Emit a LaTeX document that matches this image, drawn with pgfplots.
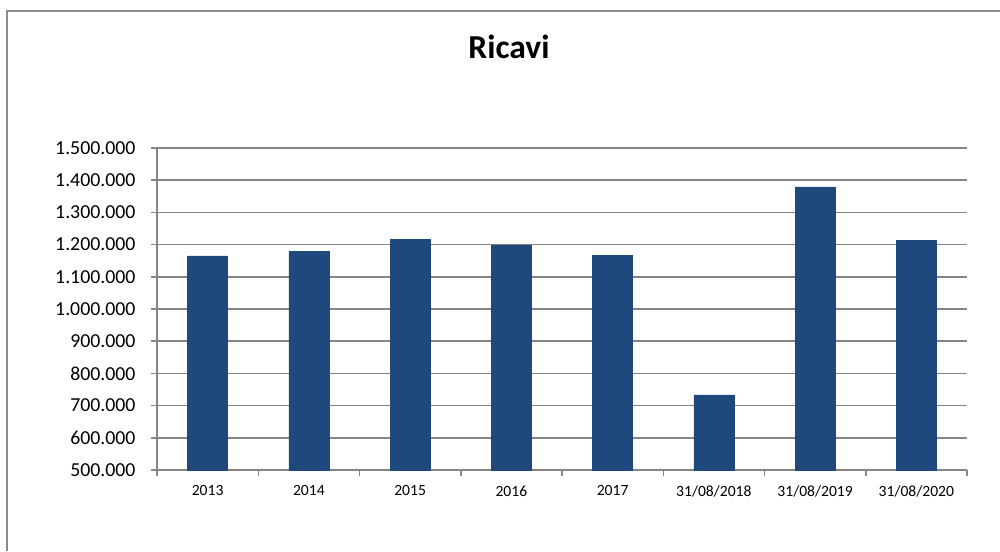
\documentclass[border=0pt]{standalone}
\usepackage{pgfplots}
\pgfplotsset{compat=1.18}
\usepackage{fontspec}
\setmainfont{Carlito}
\definecolor{barblue}{RGB}{31,73,125}
\definecolor{gridgray}{RGB}{134,134,134}
\definecolor{framegray}{RGB}{140,140,140}
\begin{document}
\begin{tikzpicture}[x=1pt,y=1pt]
\useasboundingbox (0,0) rectangle (1000,-551);
\draw[framegray, line width=1.5pt] (7,-551) -- (7,-11) -- (1000,-11);
\node[font=\fontsize{33.5}{40}\selectfont\bfseries, anchor=base] at (509,-59) {Ricavi};
\begin{axis}[
  at={(157pt,-470pt)}, anchor=south west,
  scale only axis, width=810pt, height=322pt,
  xmin=-0.5, xmax=7.5, ymin=500000, ymax=1500000,
  axis x line*=bottom, axis y line*=left,
  axis line style={-, draw=gridgray, line width=1.5pt},
  xtick={0,...,7},
  xticklabels={2013,2014,2015,2016,2017,31/08/2018,31/08/2019,31/08/2020},
  minor xtick={-0.5,0.5,...,7.5},
  major x tick style={draw=none},
  minor x tick style={draw=gridgray, line width=1.5pt},
  minor tick length=6pt,
  ytick={500000,600000,...,1500000},
  yticklabels={500.000,600.000,700.000,800.000,900.000,1.000.000,1.100.000,1.200.000,1.300.000,1.400.000,1.500.000},
  major y tick style={draw=gridgray, line width=1.5pt},
  major tick length=6pt,
  tick align=outside,
  ymajorgrids,
  major grid style={draw=gridgray, line width=1.5pt},
  scaled y ticks=false,
  yticklabel style={font=\fontsize{19.8}{22}\selectfont, xshift=-12pt},
  xticklabel style={font=\fontsize{15.6}{18}\selectfont, yshift=-6pt},
  /pgf/number format/assume math mode=true,
  clip=false,
]
\addplot[ybar, bar width=40pt, fill=barblue, draw=barblue, bar shift=0pt]
 coordinates {(0,1165000) (1,1178000) (2,1217000) (3,1199000) (4,1167000) (5,733000) (6,1379000) (7,1214000)};
\end{axis}
\end{tikzpicture}
\end{document}
